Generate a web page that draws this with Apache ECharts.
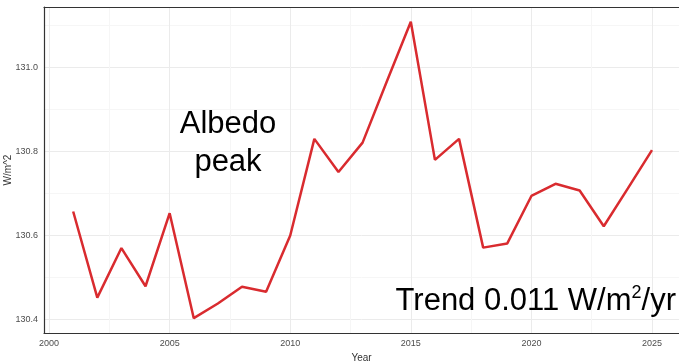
<!DOCTYPE html>
<html>
<head>
<meta charset="utf-8">
<script src="https://cdn.jsdelivr.net/npm/echarts@6/dist/echarts.min.js"></script>
<style>html,body{margin:0;padding:0;background:#fff}#c{width:679px;height:361px}</style>
</head>
<body>
<div id="c"></div>
<script>
const years = [2001,2002,2003,2004,2005,2006,2007,2008,2009,2010,2011,2012,2013,2014,2015,2016,2017,2018,2019,2020,2021,2022,2023,2024,2025];
const albedo = [130.656,130.451,130.569,130.478,130.652,130.402,130.437,130.477,130.465,130.599,130.829,130.750,130.820,130.965,131.108,130.779,130.829,130.570,130.580,130.693,130.722,130.706,130.621,130.711,130.802];
const xGridValues = [2000,2002.5,2005,2007.5,2010,2012.5,2015,2017.5,2020,2022.5,2025];
const xLabelValues = [2000,2005,2010,2015,2020,2025];
const yGridValues = [130.4,130.5,130.6,130.7,130.8,130.9,131.0,131.1];
const yLabelValues = [130.4,130.6,130.8,131.0];
const xName = 'Year';
const yName = 'W/m^2';
const annotation1 = 'Albedo\npeak';

const chart = echarts.init(document.getElementById('c'));
const labelFont = {color:'#4d4d4d', fontSize:9, fontFamily:'Liberation Sans'};
chart.setOption({
  animation:false,
  backgroundColor:'#fff',
  grid:{left:44, right:0, top:7, bottom:28, containLabel:false, outerBoundsMode:'none'},
  xAxis:[{
    type:'value', min:1999.79, max:2026.12,
    name:xName, nameLocation:'middle', nameGap:17,
    nameTextStyle:{color:'#333', fontSize:10, fontFamily:'Liberation Sans'},
    axisLine:{show:true, lineStyle:{color:'#333', width:1.2}},
    axisTick:{show:false, customValues:xGridValues},
    axisLabel:Object.assign({customValues:xLabelValues, margin:6, formatter:v=>String(Math.round(v))}, labelFont),
    splitLine:{show:true, lineStyle:{color:['#ebebeb','#f6f6f6'], width:1}}
  },{
    type:'value', position:'top', min:1999.79, max:2026.12,
    axisLine:{show:true, lineStyle:{color:'#333', width:1.2}},
    axisTick:{show:false}, axisLabel:{show:false}, splitLine:{show:false}
  }],
  yAxis:{
    type:'value', min:130.3667, max:131.143,
    axisLine:{show:true, lineStyle:{color:'#333', width:1.2}},
    axisTick:{show:false, customValues:yGridValues},
    axisLabel:Object.assign({customValues:yLabelValues, margin:6, formatter:v=>v.toFixed(1)}, labelFont),
    splitLine:{show:true, lineStyle:{color:['#ebebeb','#f6f6f6'], width:1}}
  },
  series:[{
    type:'line', xAxisIndex:0,
    data:years.map((y,i)=>[y, albedo[i]]),
    showSymbol:false, symbol:'none',
    lineStyle:{color:'#d92b2f', width:2.5}
  }],
  graphic:[{
    type:'text', x:8, y:170, rotation:Math.PI/2, z:100,
    style:{text:yName, fill:'#333', font:'10px "Liberation Sans"', align:'center', verticalAlign:'middle'}
  },{
    type:'text', x:228, y:105, z:100,
    style:{text:annotation1, fill:'#000', font:'31px "Liberation Sans"', align:'center', verticalAlign:'top', lineHeight:38}
  },{
    type:'text', x:676, y:282, z:100,
    style:{
      text:'{n|Trend 0.011 W/m}{s|2}{n|/yr}',
      align:'right', verticalAlign:'top',
      rich:{
        n:{fontSize:31, fontFamily:'Liberation Sans', fill:'#000', lineHeight:35, verticalAlign:'bottom'},
        s:{fontSize:18, fontFamily:'Liberation Sans', fill:'#000', lineHeight:35, verticalAlign:'top', padding:[2,0,0,0]}
      }
    }
  }]
});
</script>
</body>
</html>
